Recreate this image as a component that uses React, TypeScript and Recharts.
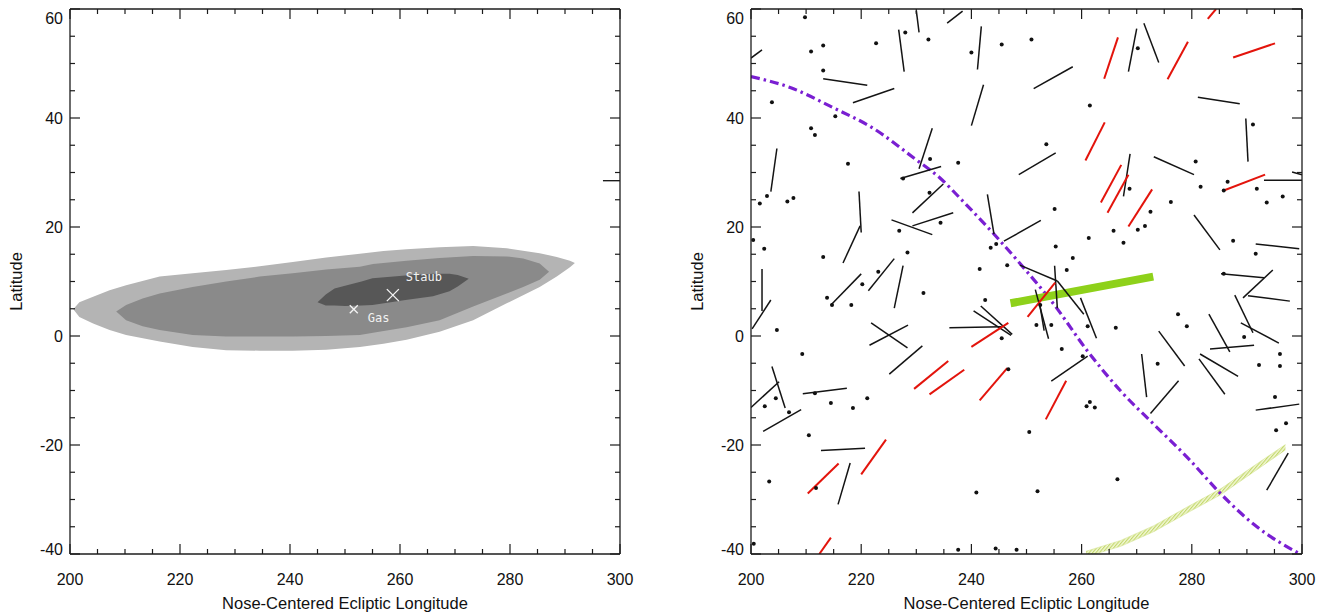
import React from 'react';
import { ComposedChart, XAxis, YAxis, Area, Line, Scatter, ReferenceLine } from 'recharts';

// ---------- axes ----------
const lonTicks = [200, 205, 210, 215, 220, 225, 230, 235, 240, 245, 250, 255, 260, 265, 270, 275, 280, 285, 290, 295, 300];
const latTicks = [-40, -35, -30, -25, -20, -15, -10, -5, 0, 5, 10, 15, 20, 25, 30, 35, 40, 45, 50, 55, 60];
const majorLon = [200, 220, 240, 260, 280, 300];
const majorLat = [-40, -20, 0, 20, 40, 60];

// ---------- left panel: confidence contours ----------
const outerLon = [200.6, 201.7, 204.2, 207.2, 210.2, 216.3, 222.3, 228.4, 234.5, 240.5, 246.6, 252.7, 257.0, 261.2, 267.2, 273.3, 279.4, 285.4, 288.5, 290.9, 291.8];
const outerLow = [4.9, 3.5, 2.3, 1.1, 0.2, -1.0, -2.0, -2.6, -2.7, -2.7, -2.5, -2.0, -1.4, -0.7, 0.8, 2.9, 6.0, 9.0, 10.9, 12.6, 13.4];
const outerHigh = [4.9, 6.2, 7.2, 8.4, 9.3, 10.9, 11.5, 12.1, 12.8, 13.6, 14.4, 15.1, 15.6, 15.9, 16.3, 16.5, 16.1, 15.2, 14.5, 13.8, 13.4];

const middleLon = [208.4, 210.2, 213.2, 216.3, 222.3, 228.4, 234.5, 240.5, 246.6, 252.7, 255.1, 261.2, 267.2, 273.3, 279.4, 282.4, 285.4, 287.1];
const middleLow = [4.5, 2.9, 1.8, 1.1, 0.2, -0.1, -0.1, -0.1, 0.0, 0.2, 0.6, 1.6, 2.9, 5.4, 7.8, 9.0, 10.3, 11.8];
const middleHigh = [4.5, 5.7, 6.9, 7.8, 9.0, 10.0, 10.9, 11.5, 12.2, 12.7, 13.2, 13.8, 14.3, 14.7, 14.6, 14.2, 13.3, 11.8];

const innerLon = [245.0, 246.5, 248.1, 250.0, 253.0, 255.0, 261.0, 266.0, 269.0, 270.5, 272.5];
const innerLow = [6.2, 5.6, 5.6, 5.5, 5.6, 5.7, 6.6, 7.3, 8.2, 9.1, 10.5];
const innerHigh = [6.2, 7.6, 8.7, 9.2, 10.0, 10.6, 11.1, 11.4, 11.4, 11.2, 10.5];

const markerNames = ['Staub', 'Gas'];
const markerLon = [258.7, 251.6];
const markerLat = [7.5, 4.9];

// stray tick on the right frame of the left panel
const strayTickLat = 28.5;
const strayTickLon = [296.9, 300];

// ---------- right panel ----------
// [lon1, lat1, lon2, lat2]
const blackSegments = [
  [200, 51, 202, 52.5], [226.8, 56.2, 227.8, 48.5], [230.0, 59.7, 230.5, 55.7], [235.6, 57.4, 238.4, 59.6],
  [241.8, 56.8, 241.1, 48.9], [213.1, 47.2, 221.1, 46.0], [218.5, 42.8, 226.0, 45.4], [242.2, 46.1, 240.0, 38.6],
  [204.7, 34.4, 203.6, 26.5], [232.9, 38.1, 230.5, 30.7], [227.1, 28.9, 234.5, 31.1], [229.3, 22.6, 234.9, 27.9],
  [248.6, 29.6, 255.3, 33.6], [251.3, 45.4, 258.4, 49.4], [219.6, 26.5, 220.0, 19.0], [242.9, 26.0, 244.1, 18.7],
  [270.0, 56.4, 268.5, 48.5], [271.3, 57.4, 274.0, 50.2], [281.1, 43.8, 288.7, 42.6], [289.8, 39.9, 290.2, 32.0],
  [273.1, 32.9, 280.4, 29.6], [293.1, 28.6, 300, 28.6], [298.2, 30.1, 300, 29.6], [268.8, 33.4, 267.6, 25.6],
  [219.8, 20.2, 216.7, 13.4], [225.5, 21.3, 232.9, 18.6], [229.3, 20.2, 236.7, 22.6], [202.0, 12.3, 202.0, 4.6],
  [200.2, 1.3, 203.6, 6.6], [226.0, 14.2, 221.3, 8.3], [227.6, 12.9, 226.0, 5.1], [214.5, 5.7, 220.0, 11.4],
  [221.8, 2.4, 228.4, -2.2], [221.5, -1.7, 228.5, 2.0], [225.1, -7.0, 231.1, -1.8], [236.0, 1.5, 245.5, 1.7],
  [240.4, 4.6, 247.2, 0.1], [241.7, 5.5, 247.4, 0.3], [245.9, 17.4, 252.6, 21.2], [248.8, 13.0, 255.6, 10.1],
  [255.1, 12.9, 255.6, 5.1], [255.6, 10.1, 260.4, 4.0], [259.8, 7.0, 262.7, -0.4], [251.6, 8.5, 254.0, -0.5],
  [252.3, 6.5, 253.2, 1.0], [280.4, 22.2, 285.1, 15.8], [291.6, 16.9, 299.5, 16.0], [285.3, 11.4, 293.1, 10.7],
  [294.7, 12.1, 289.3, 7.0], [290.2, 7.4, 297.8, 6.4], [287.8, 7.5, 291.1, 0.6], [288.9, 2.4, 295.8, -1.3],
  [283.1, 4.0, 286.9, -2.9], [283.3, -2.4, 291.3, -1.7], [274.0, 0.9, 278.7, -5.5], [281.5, -3.3, 288.4, -7.4],
  [281.3, -4.2, 286.0, -10.7], [270.9, -3.3, 271.8, -11.2], [254.5, -8.3, 261.1, -3.7], [277.6, -8.2, 272.5, -14.2],
  [291.6, -13.6, 299.5, -12.5], [297.5, -21.5, 293.6, -28.3], [200, -13.1, 205.1, -8.4], [203.8, -5.6, 206.2, -13.2],
  [202.2, -17.5, 209.1, -13.5], [209.4, -10.6, 217.4, -9.6], [212.7, -21.0, 220.7, -20.6], [218.0, -23.3, 215.8, -30.9],
];

const redSegments = [
  [266.6, 54.8, 264.1, 47.2], [279.3, 54.0, 275.6, 47.1], [284.4, 60, 282.9, 58.2], [295.1, 53.7, 287.5, 51.1],
  [264.2, 39.2, 260.7, 32.2], [293.3, 29.6, 285.8, 26.7], [267.2, 31.4, 263.5, 24.5], [268.5, 29.6, 264.7, 22.6],
  [272.8, 26.9, 268.5, 20.1], [255.2, 9.8, 250.2, 3.5], [240.0, -2.0, 246.7, 2.4], [229.6, -9.7, 235.8, -4.6],
  [232.4, -10.7, 238.7, -6.2], [241.5, -11.8, 246.5, -5.9], [257.2, -8.2, 253.5, -15.3], [210.3, -28.9, 215.9, -23.4],
  [220.0, -25.4, 224.5, -19.0], [212.4, -40, 214.5, -37.0],
];

const dots = [
  [209.8, 58.5], [228.0, 55.7], [232.2, 54.4], [222.7, 53.7], [213.1, 53.3], [210.9, 52.2], [240.0, 52.0], [245.5, 53.5],
  [250.9, 54.4], [213.1, 48.7], [203.8, 42.9], [215.3, 40.3], [210.9, 38.1], [211.6, 36.9], [217.6, 31.6], [237.6, 31.8],
  [232.5, 32.5], [227.6, 28.9], [232.4, 26.3], [201.6, 24.3], [202.9, 25.7], [206.6, 24.7], [207.7, 25.3],
  [270.2, 52.8], [261.5, 42.3], [253.6, 35.2], [291.1, 38.8], [280.7, 32.0], [286.5, 28.3], [281.6, 27.4], [291.8, 27.0],
  [296.5, 25.6], [268.7, 27.0], [285.8, 26.7],
  [255.1, 23.3], [272.5, 22.8], [276.2, 24.6], [293.6, 24.5], [265.8, 19.3], [270.2, 19.5], [271.5, 20.2], [261.3, 18.0],
  [267.6, 17.1], [287.5, 17.5], [291.6, 15.1], [255.3, 16.4], [258.4, 14.3], [257.3, 12.1], [285.8, 11.4], [252.5, 5.7],
  [251.8, 2.0], [254.5, 2.0], [261.1, 1.8], [266.2, 1.5], [277.5, 4.0], [279.1, 1.8], [289.5, -0.2], [256.4, -2.4],
  [260.2, -3.7], [273.8, -5.1], [292.2, -5.3], [296.0, -3.3], [296.0, -5.5], [295.1, -11.2],
  [200.4, 17.6], [202.4, 16.0], [213.1, 14.5], [226.9, 19.3], [234.4, 20.8], [228.4, 15.3], [223.1, 11.8], [220.2, 9.5],
  [213.8, 7.0], [218.2, 5.7], [214.7, 5.7], [231.3, 7.9], [241.5, 12.3], [246.5, 13.0], [243.5, 16.2], [244.5, 16.9],
  [242.5, 6.6], [204.7, 1.1], [209.3, -3.3], [245.5, -0.4], [246.7, -6.1], [204.5, -11.4], [211.6, -10.5], [221.1, -11.4],
  [202.5, -12.9], [206.9, -14.0], [214.5, -12.3], [218.5, -13.2], [210.5, -18.2], [203.3, -26.7], [211.8, -27.9],
  [200.5, -38.1], [237.6, -39.2], [244.4, -39.0], [248.2, -39.2], [250.5, -17.6], [240.9, -28.7], [252.0, -28.5],
  [260.9, -12.9], [261.5, -12.1], [262.4, -13.1], [266.5, -26.3], [295.3, -17.3], [297.1, -16.0],
];

// dash-dot great circle
const curveLon = [200, 207.1, 214.9, 222.2, 229.5, 234.4, 238.4, 244.0, 249.5, 254.9, 261.1, 267.1, 273.1, 279.3, 285.3, 291.3, 300];
const curveLat = [47.6, 45.6, 41.9, 38.1, 32.7, 28.9, 24.8, 18.8, 12.5, 5.9, -2.8, -10.1, -16.2, -22.4, -29.0, -34.6, -40.2];

// hatched band (lower right)
const bandLon = [260.8, 267.1, 273.1, 279.3, 285.3, 291.3, 297.0];
const bandLow = [-40.5, -38.6, -35.9, -32.4, -29.1, -24.9, -20.9];
const bandHigh = [-39.5, -37.5, -34.8, -31.3, -28.0, -23.8, -19.9];

// thick green segment
const greenLon = [247.1, 273.0];
const greenLat = [6.0, 10.9];

// ---------- derived tables ----------
const outerData = outerLon.map((lon, i) => ({ lon, range: [outerLow[i], outerHigh[i]] }));
const middleData = middleLon.map((lon, i) => ({ lon, range: [middleLow[i], middleHigh[i]] }));
const innerData = innerLon.map((lon, i) => ({ lon, range: [innerLow[i], innerHigh[i]] }));
const markerData = markerNames.map((name, i) => ({ name, lon: markerLon[i], lat: markerLat[i] }));
const dotData = dots.map(([lon, lat]) => ({ lon, lat }));
const curveData = curveLon.map((lon, i) => ({ lon, lat: curveLat[i] }));
const bandData = bandLon.map((lon, i) => ({ lon, range: [bandLow[i], bandHigh[i]] }));

const FONT = '"Liberation Sans", Arial, Helvetica, sans-serif';
const INK = '#1c1c1c';

function BottomTick(props: any) {
  const { x, y, payload } = props;
  const v = payload.value;
  const major = majorLon.includes(v);
  return (
    <g>
      <line x1={x} x2={x} y1={y} y2={y - (major ? 10 : 5)} stroke={INK} strokeWidth={1.2} />
      {major && (
        <text x={x} y={y + 31} textAnchor="middle" fontSize={16} fontFamily={FONT} fill="#111">{v}</text>
      )}
    </g>
  );
}

function TopTick(props: any) {
  const { x, y, payload } = props;
  const major = majorLon.includes(payload.value);
  return <line x1={x} x2={x} y1={y} y2={y + (major ? 10 : 5)} stroke={INK} strokeWidth={1.2} />;
}

function LeftTick(props: any) {
  const { x, y, payload } = props;
  const v = payload.value;
  const major = majorLat.includes(v);
  const nudge = v === 60 ? 9 : v === -40 ? -5 : 0;
  return (
    <g>
      <line x1={x} x2={x + (major ? 10 : 5)} y1={y} y2={y} stroke={INK} strokeWidth={1.2} />
      {major && (
        <text x={x - 7} y={y + nudge + 5.8} textAnchor="end" fontSize={16} fontFamily={FONT} fill="#111">{v}</text>
      )}
    </g>
  );
}

function RightTick(props: any) {
  const { x, y, payload } = props;
  const major = majorLat.includes(payload.value);
  return <line x1={x} x2={x - (major ? 10 : 5)} y1={y} y2={y} stroke={INK} strokeWidth={1.2} />;
}

function XTitle(props: any) {
  const vb = props.viewBox || {};
  return (
    <text x={vb.x + vb.width / 2} y={vb.y + 55} textAnchor="middle" fontSize={16.5} fontFamily={FONT} fill="#111">
      Nose-Centered Ecliptic Longitude
    </text>
  );
}

function YTitle(props: any) {
  const vb = props.viewBox || {};
  const cx = vb.x + vb.width - 54;
  const cy = vb.y + vb.height / 2;
  return (
    <text x={cx} y={cy} transform={`rotate(-90 ${cx} ${cy})`} textAnchor="middle" dominantBaseline="central" fontSize={16.5} fontFamily={FONT} fill="#111">
      Latitude
    </text>
  );
}

function MarkerShape(props: any) {
  const { cx, cy, payload } = props;
  const big = payload.name === 'Staub';
  const s = big ? 6 : 4;
  return (
    <g>
      <line x1={cx - s} y1={cy - s} x2={cx + s} y2={cy + s} stroke="#f4f4f4" strokeWidth={1.3} />
      <line x1={cx - s} y1={cy + s} x2={cx + s} y2={cy - s} stroke="#f4f4f4" strokeWidth={1.3} />
      <text x={cx + (big ? 13 : 14)} y={cy + (big ? -14 : 12.4)} fontSize={12} fontFamily='"DejaVu Sans Mono", monospace' fill="#f2f2f2">
        {payload.name}
      </text>
    </g>
  );
}

function DotShape(props: any) {
  return <circle cx={props.cx} cy={props.cy} r={2} fill="#111" />;
}

function axes() {
  return [
    <XAxis key="xb" xAxisId="b" dataKey="lon" type="number" domain={[200, 300]} ticks={lonTicks} interval={0}
      allowDataOverflow height={50} tickSize={0} tickMargin={0} tickLine={false}
      axisLine={{ stroke: INK, strokeWidth: 1.3 }} tick={BottomTick} label={XTitle} />,
    <XAxis key="xt" xAxisId="t" orientation="top" dataKey="lon" type="number" domain={[200, 300]} ticks={lonTicks} interval={0}
      allowDataOverflow height={5} tickSize={0} tickMargin={0} tickLine={false}
      axisLine={{ stroke: INK, strokeWidth: 1.3 }} tick={TopTick} />,
    <YAxis key="yl" yAxisId="l" type="number" domain={[-40, 60]} ticks={latTicks} interval={0}
      allowDataOverflow width={60} tickSize={0} tickMargin={0} tickLine={false}
      axisLine={{ stroke: INK, strokeWidth: 1.3 }} tick={LeftTick} label={YTitle} />,
    <YAxis key="yr" yAxisId="r" orientation="right" type="number" domain={[-40, 60]} ticks={latTicks} interval={0}
      allowDataOverflow width={5} tickSize={0} tickMargin={0} tickLine={false}
      axisLine={{ stroke: INK, strokeWidth: 1.3 }} tick={RightTick} />,
  ];
}

const seg = (s: number[]) => [{ x: s[0], y: s[1] }, { x: s[2], y: s[3] }];

export default function App() {
  return (
    <div style={{ position: 'absolute', left: 0, top: 0, width: 1326, height: 614, background: '#ffffff' }}>
      <svg width={0} height={0} style={{ position: 'absolute' }}>
        <defs>
          <pattern id="hatchBand" width="2.6" height="2.6" patternUnits="userSpaceOnUse" patternTransform="rotate(40)">
            <rect width="2.6" height="2.6" fill="#f2f7d6" />
            <line x1="0.6" y1="0" x2="0.6" y2="2.6" stroke="#bdd45c" strokeWidth="1" />
          </pattern>
        </defs>
      </svg>

      <div style={{ position: 'absolute', left: 0, top: 0 }}>
        <ComposedChart width={663} height={614} margin={{ top: 4, right: 38, bottom: 10, left: 10 }}>
          {axes()}
          <Area xAxisId="b" yAxisId="l" data={outerData} dataKey="range" type="linear" stroke="none" fill="#b4b4b4" fillOpacity={1} isAnimationActive={false} />
          <Area xAxisId="b" yAxisId="l" data={middleData} dataKey="range" type="linear" stroke="none" fill="#8a8a8a" fillOpacity={1} isAnimationActive={false} />
          <Area xAxisId="b" yAxisId="l" data={innerData} dataKey="range" type="linear" stroke="none" fill="#575757" fillOpacity={1} isAnimationActive={false} />
          <Scatter xAxisId="b" yAxisId="l" data={markerData} dataKey="lat" shape={MarkerShape} isAnimationActive={false} />
          <ReferenceLine xAxisId="b" yAxisId="l" ifOverflow="visible"
            segment={[{ x: strayTickLon[0], y: strayTickLat }, { x: strayTickLon[1], y: strayTickLat }]}
            stroke={INK} strokeWidth={1.4} />
        </ComposedChart>
      </div>

      <div style={{ position: 'absolute', left: 663, top: 0 }}>
        <ComposedChart width={663} height={614} margin={{ top: 4, right: 19, bottom: 10, left: 28 }}>
          {axes()}
          <Area xAxisId="b" yAxisId="l" data={bandData} dataKey="range" type="linear" stroke="#d3e38e" strokeWidth={0.5} fill="url(#hatchBand)" fillOpacity={1} isAnimationActive={false} />
          <Line xAxisId="b" yAxisId="l" data={curveData} dataKey="lat" type="monotone" stroke="#7a1fd2" strokeWidth={3.2}
            strokeDasharray="9 4 2.5 4" dot={false} activeDot={false} isAnimationActive={false} />
          <ReferenceLine xAxisId="b" yAxisId="l" ifOverflow="hidden"
            segment={[{ x: greenLon[0], y: greenLat[0] }, { x: greenLon[1], y: greenLat[1] }]}
            stroke="#8ed11a" strokeWidth={8} />
          {blackSegments.map((s, i) => (
            <ReferenceLine key={'k' + i} xAxisId="b" yAxisId="l" ifOverflow="hidden" segment={seg(s)} stroke="#141414" strokeWidth={1.5} />
          ))}
          {redSegments.map((s, i) => (
            <ReferenceLine key={'r' + i} xAxisId="b" yAxisId="l" ifOverflow="hidden" segment={seg(s)} stroke="#e3140c" strokeWidth={2} />
          ))}
          <Scatter xAxisId="b" yAxisId="l" data={dotData} dataKey="lat" shape={DotShape} isAnimationActive={false} />
        </ComposedChart>
      </div>
    </div>
  );
}
